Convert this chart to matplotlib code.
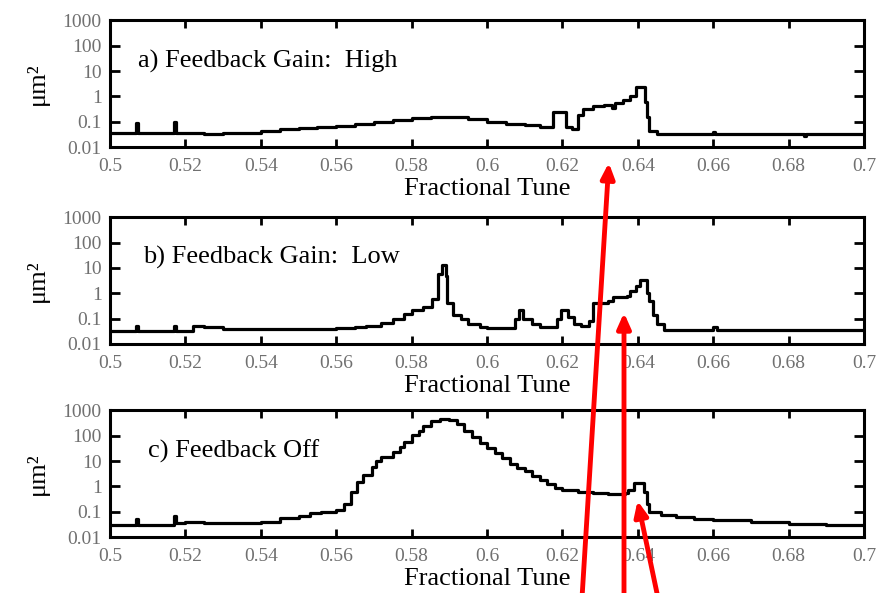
import numpy as np
import matplotlib
matplotlib.use("Agg")
import matplotlib.pyplot as plt
from matplotlib.ticker import FixedLocator, FixedFormatter, LogLocator, NullFormatter

plt.rcParams['font.family'] = ['Liberation Serif', 'DejaVu Serif']

# panel a) feedback gain high
a_x = [0.5, 0.507, 0.5075, 0.517, 0.5175, 0.525, 0.53, 0.54, 0.545, 0.55, 0.555, 0.56,
       0.565, 0.57, 0.575, 0.58, 0.585, 0.59, 0.595, 0.6, 0.605, 0.61, 0.614, 0.6175,
       0.621, 0.6225, 0.624, 0.6255, 0.628, 0.631, 0.633, 0.634, 0.636, 0.638, 0.6395,
       0.642, 0.6425, 0.643, 0.645, 0.66, 0.6605, 0.684, 0.6845, 0.7]
a_v = [0.035, 0.09, 0.035, 0.1, 0.036, 0.034, 0.037, 0.045, 0.05, 0.055, 0.06, 0.065,
       0.08, 0.1, 0.12, 0.14, 0.15, 0.155, 0.13, 0.1, 0.085, 0.075, 0.06, 0.24,
       0.06, 0.05, 0.19, 0.33, 0.4, 0.45, 0.35, 0.55, 0.75, 1.0, 2.3,
       0.6, 0.16, 0.045, 0.034, 0.04, 0.034, 0.028, 0.034, 0.034]

# panel b) feedback gain low
b_x = [0.5, 0.507, 0.5075, 0.517, 0.5175, 0.522, 0.525, 0.53, 0.56, 0.565, 0.568, 0.572,
       0.575, 0.578, 0.58, 0.583, 0.5855, 0.587, 0.588, 0.589, 0.5895, 0.591, 0.593, 0.595,
       0.598, 0.6, 0.6075, 0.6085, 0.6095, 0.612, 0.614, 0.6185, 0.6195, 0.6215, 0.623,
       0.625, 0.627, 0.628, 0.632, 0.6335, 0.637, 0.638, 0.6395, 0.6405, 0.6425, 0.643,
       0.644, 0.645, 0.647, 0.66, 0.661, 0.7]
b_v = [0.033, 0.05, 0.033, 0.05, 0.033, 0.05, 0.045, 0.04, 0.042, 0.045, 0.05, 0.07,
       0.1, 0.15, 0.22, 0.3, 0.6, 6.0, 13.0, 5.0, 0.4, 0.14, 0.1, 0.06,
       0.045, 0.043, 0.1, 0.22, 0.1, 0.06, 0.045, 0.1, 0.22, 0.12, 0.06,
       0.05, 0.08, 0.4, 0.5, 0.7, 0.8, 1.2, 2.0, 3.3, 1.0, 0.5,
       0.14, 0.06, 0.035, 0.045, 0.034, 0.034]

# panel c) feedback off
c_x = [0.5, 0.507, 0.5075, 0.517, 0.5175, 0.52, 0.525, 0.54, 0.545, 0.55, 0.553, 0.556,
       0.56, 0.562, 0.564, 0.5655, 0.567, 0.5695, 0.5705, 0.572, 0.575, 0.577, 0.578,
       0.58, 0.582, 0.583, 0.585, 0.5875, 0.59, 0.592, 0.594, 0.596, 0.598, 0.6, 0.602,
       0.604, 0.606, 0.608, 0.61, 0.612, 0.614, 0.616, 0.618, 0.62, 0.624, 0.628, 0.632,
       0.6365, 0.6375, 0.639, 0.6415, 0.6425, 0.643, 0.646, 0.65, 0.655, 0.66, 0.67,
       0.68, 0.69, 0.7]
c_v = [0.03, 0.05, 0.03, 0.07, 0.035, 0.04, 0.035, 0.04, 0.055, 0.07, 0.085, 0.1,
       0.12, 0.2, 0.6, 1.5, 2.8, 6.0, 10.0, 15.0, 22.0, 35.0, 55.0,
       110.0, 150.0, 250.0, 380.0, 450.0, 420.0, 300.0, 160.0, 90.0, 50.0, 32.0, 20.0,
       13.0, 8.0, 5.5, 4.0, 2.5, 1.8, 1.2, 0.9, 0.7, 0.6, 0.55, 0.5,
       0.55, 0.75, 1.3, 0.6, 0.2, 0.1, 0.075, 0.06, 0.05, 0.045, 0.038,
       0.034, 0.031, 0.03]

panels = [("a) Feedback Gain:  High", a_x, a_v, 0.037),
          ("b) Feedback Gain:  Low", b_x, b_v, 0.044),
          ("c) Feedback Off", c_x, c_v, 0.05)]

x_ticks = [0.5, 0.52, 0.54, 0.56, 0.58, 0.6, 0.62, 0.64, 0.66, 0.68, 0.7]
x_labels = ["0.5", "0.52", "0.54", "0.56", "0.58", "0.6", "0.62", "0.64", "0.66", "0.68", "0.7"]
y_ticks = [0.01, 0.1, 1, 10, 100, 1000]
y_labels = ["0.01", "0.1", "1", "10", "100", "1000"]

fig = plt.figure(figsize=(8.8, 5.93), dpi=100)
bottoms = [0.752, 0.42, 0.0944]

for (title, xs, vs, tx), b in zip(panels, bottoms):
    ax = fig.add_axes([0.125, b, 0.857, 0.2135])
    ax.plot(xs, vs, color='black', lw=2.3, drawstyle='steps-post')
    ax.set_yscale('log')
    ax.set_xlim(0.5, 0.7)
    ax.set_ylim(0.01, 1000)
    ax.xaxis.set_major_locator(FixedLocator(x_ticks))
    ax.xaxis.set_major_formatter(FixedFormatter(x_labels))
    ax.yaxis.set_major_locator(FixedLocator(y_ticks))
    ax.yaxis.set_major_formatter(FixedFormatter(y_labels))
    ax.yaxis.set_minor_locator(LogLocator(base=10, subs=(3.0,)))
    ax.yaxis.set_minor_formatter(NullFormatter())
    ax.tick_params(which='both', direction='in', top=True, right=True,
                   labelsize=14, labelcolor='#707070', width=2)
    ax.tick_params(axis='x', which='major', length=6, pad=8)
    ax.tick_params(axis='y', which='major', length=7, pad=6)
    ax.tick_params(axis='y', which='minor', length=5)
    for s in ax.spines.values():
        s.set_linewidth(2.2)
    ax.set_xlabel("Fractional Tune", fontsize=19, labelpad=2)
    ax.set_ylabel("μm²", fontsize=19, labelpad=10)
    ax.text(tx, 0.68, title, transform=ax.transAxes, fontsize=19, va='center', ha='left')

# red arrows (figure pixels, origin bottom-left)
arrow_props = dict(arrowstyle='-|>,head_length=0.9,head_width=0.4', color='red', lw=3.5)
fig.add_artist(plt.Annotation("", xy=(609, 433), xytext=(582, -5),
                              xycoords='figure pixels', textcoords='figure pixels',
                              arrowprops=arrow_props))
fig.add_artist(plt.Annotation("", xy=(624, 283), xytext=(624, -5),
                              xycoords='figure pixels', textcoords='figure pixels',
                              arrowprops=arrow_props))
fig.add_artist(plt.Annotation("", xy=(637, 95), xytext=(658, -5),
                              xycoords='figure pixels', textcoords='figure pixels',
                              arrowprops=arrow_props))

fig.savefig("out.png", dpi=100)
